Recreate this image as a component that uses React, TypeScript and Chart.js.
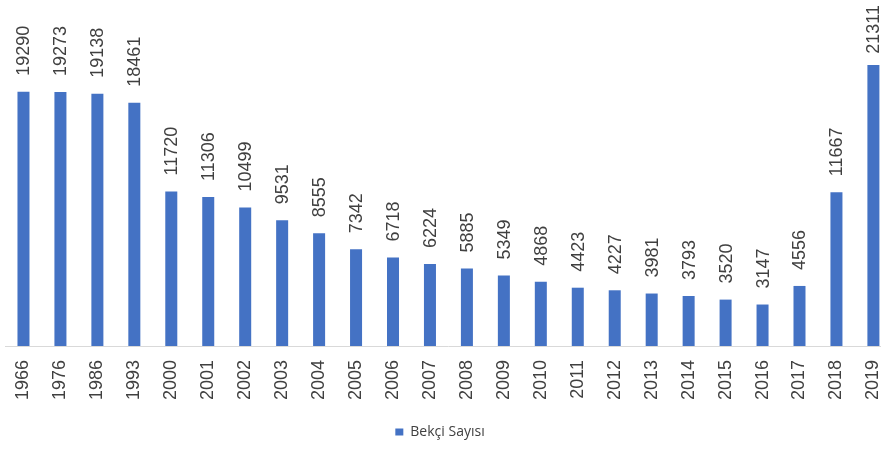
import { useEffect, useRef } from 'react';
import { Chart, registerables } from 'chart.js';

Chart.register(...registerables);

const categories = ['1966', '1976', '1986', '1993', '2000', '2001', '2002', '2003', '2004', '2005', '2006', '2007', '2008', '2009', '2010', '2011', '2012', '2013', '2014', '2015', '2016', '2017', '2018', '2019'];
const values = [19290, 19273, 19138, 18461, 11720, 11306, 10499, 9531, 8555, 7342, 6718, 6224, 5885, 5349, 4868, 4423, 4227, 3981, 3793, 3520, 3147, 4556, 11667, 21311];
const seriesName = 'Bekçi Sayısı';

const BAR_COLOR = '#4472C4';
const TEXT_COLOR = '#404040';
const FONT = '"Liberation Sans", Arial, sans-serif';
const CANVAS_W = 909;

const valueLabels = {
  id: 'valueLabels',
  afterDatasetsDraw(chart: any) {
    const ctx = chart.ctx;
    const meta = chart.getDatasetMeta(0);
    ctx.save();
    ctx.font = `18px ${FONT}`;
    ctx.fillStyle = TEXT_COLOR;
    meta.data.forEach((bar: any, i: number) => {
      const text = String(values[i]);
      const w = ctx.measureText(text).width;
      let y = bar.y - 16;
      if (y - w < 5) y = 5 + w;
      ctx.save();
      ctx.translate(bar.x + 1, y);
      ctx.rotate(-Math.PI / 2);
      ctx.textAlign = 'left';
      ctx.textBaseline = 'middle';
      ctx.fillText(text, 0, 0);
      ctx.restore();
    });
    ctx.restore();
  },
};

const legendShift = {
  id: 'legendShift',
  afterLayout(chart: any) {
    const lg = chart.legend;
    if (lg) {
      lg.left -= 17;
      lg.right -= 17;
    }
  },
};

export default function App() {
  const ref = useRef<HTMLCanvasElement | null>(null);

  useEffect(() => {
    if (!ref.current) return;
    const chart = new Chart(ref.current, {
      type: 'bar',
      data: {
        labels: categories,
        datasets: [
          {
            label: seriesName,
            data: values,
            backgroundColor: BAR_COLOR,
            borderWidth: 0,
            barPercentage: 0.325,
            categoryPercentage: 1,
          },
        ],
      },
      options: {
        responsive: false,
        animation: false,
        layout: { padding: { left: 5, right: 0, top: 0, bottom: 1 } },
        plugins: {
          legend: {
            display: true,
            position: 'bottom',
            labels: {
              boxWidth: 8,
              boxHeight: 7,
              color: '#404040',
              font: { size: 14, family: '"Open Sans", sans-serif' },
              padding: 10,
            },
          },
          tooltip: { enabled: false },
        },
        scales: {
          x: {
            grid: { display: false, drawTicks: false },
            border: { display: true, color: '#d9d9d9', width: 1 },
            ticks: {
              color: TEXT_COLOR,
              font: { size: 18, family: FONT },
              minRotation: 90,
              maxRotation: 90,
              padding: 14,
              autoSkip: false,
            },
            afterFit: (scale: any) => {
              scale.height = 69;
            },
          },
          y: {
            display: false,
            min: 0,
            max: 26250,
          },
        },
      },
      plugins: [valueLabels, legendShift],
    });
    return () => chart.destroy();
  }, []);

  return (
    <div style={{ position: 'absolute', left: 0, top: 0, width: 881, height: 450, overflow: 'hidden', background: '#fff' }}>
      <canvas ref={ref} width={CANVAS_W} height={450} />
    </div>
  );
}
